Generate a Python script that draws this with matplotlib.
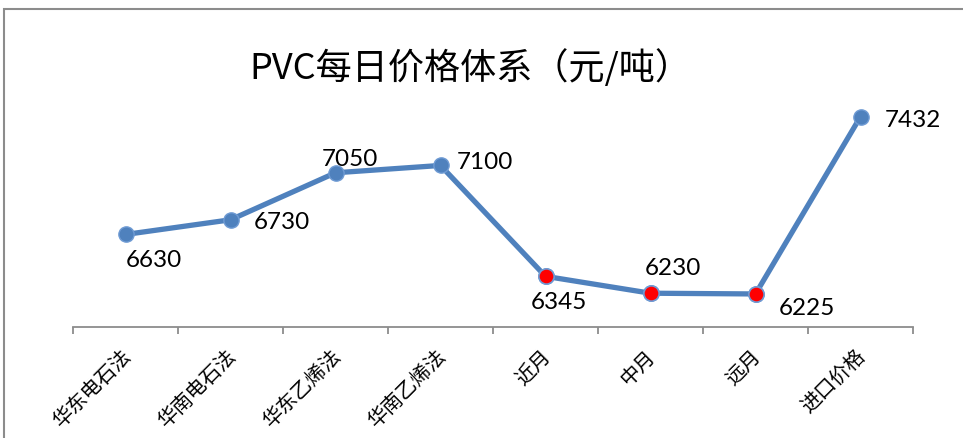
import numpy as np
import matplotlib.pyplot as plt
from matplotlib.patches import Rectangle

plt.rcParams['font.family'] = ['Noto Sans CJK SC', 'DejaVu Sans']

# 数据
categories = ['华东电石法', '华南电石法', '华东乙烯法', '华南乙烯法', '近月', '中月', '远月', '进口价格']
prices = [6630, 6730, 7050, 7100, 6345, 6230, 6225, 7432]
red_points = [4, 5, 6]
# 标签偏移 (像素)
label_offsets = [(28, -25), (51, -2), (14, 14), (44, 4), (13, -25), (22, 26), (51, -14), (52, -3)]

blue = '#4F81BD'

fig = plt.figure(figsize=(9.63, 4.39), dpi=100)
fig.patches.append(Rectangle((4 / 963, -0.2), 1.2, 0.2 + (439 - 10) / 439,
                             transform=fig.transFigure, fill=False,
                             edgecolor='#8c8c8c', linewidth=1.5))

ax = fig.add_axes([73 / 963, (439 - 328) / 439, 840 / 963, 235 / 439])
x = np.arange(len(prices))
ax.plot(x, prices, color=blue, linewidth=3.8, marker='o', markersize=11,
        markerfacecolor=blue, markeredgecolor='#6f9bd4', markeredgewidth=1, zorder=3)
ax.plot(x[red_points], np.array(prices)[red_points], linestyle='none', marker='o',
        markersize=11, markerfacecolor='#ff0000', markeredgecolor='#6f9bd4',
        markeredgewidth=1.2, zorder=4)

for i, v in enumerate(prices):
    ax.annotate(str(v), xy=(i, v), xytext=label_offsets[i], textcoords='offset pixels',
                ha='center', va='center', fontsize=17.5, family=['Lato', 'DejaVu Sans'])

ax.set_xlim(-0.5, 7.5)
ax.set_ylim(6000, 7600)
ax.set_yticks([])
for s in ['top', 'right', 'left']:
    ax.spines[s].set_visible(False)
ax.spines['bottom'].set_color('#8c8c8c')
ax.spines['bottom'].set_linewidth(1.3)

ax.set_xticks(np.arange(-0.5, 8, 1))
ax.set_xticklabels([])
ax.tick_params(axis='x', length=5, color='#8c8c8c', width=1.3, direction='out')
for i, c in enumerate(categories):
    ax.annotate(c, xy=(i, 6000), xytext=(2, -26), textcoords='offset pixels',
                rotation=45, rotation_mode='anchor', ha='right', va='center',
                fontsize=14.5, fontweight='light', annotation_clip=False)

fig.text(0.488, (439 - 68) / 439, 'PVC每日价格体系（元/吨）', ha='center', va='center',
         fontsize=26, fontweight='light')

fig.savefig('out.png', dpi=100)
